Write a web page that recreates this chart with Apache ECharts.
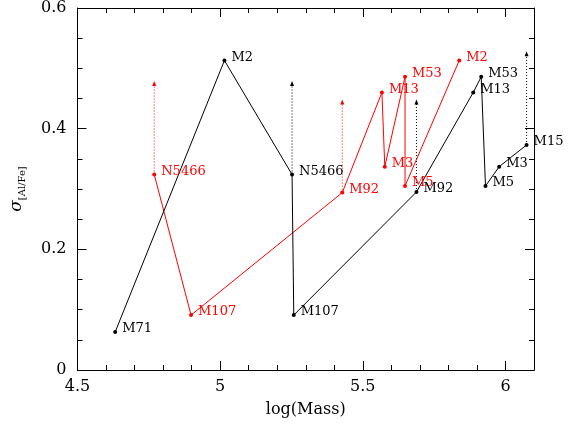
<!DOCTYPE html>
<html lang="en">
<head>
  <meta charset="utf-8">
  <title>sigma Al/Fe vs log(Mass)</title>
  <script src="https://cdn.jsdelivr.net/npm/echarts@6/dist/echarts.min.js"></script>
  <style>
    html, body, #chart { width: 100%; height: 100%; margin: 0; padding: 0; overflow: hidden; background: #fff; }
  </style>
</head>
<body>
  <div id="chart"></div>
  <script>
    // black clusters (one mass estimate)
    var blackNames = ['M71', 'M2', 'N5466', 'M107', 'M92', 'M13', 'M53', 'M5', 'M3', 'M15'];
    var blackMass = [4.632, 5.015, 5.252, 5.258, 5.688, 5.887, 5.915, 5.930, 5.978, 6.074];
    var blackSigma = [0.063, 0.513, 0.324, 0.091, 0.295, 0.460, 0.486, 0.305, 0.337, 0.373];
    // red clusters (other mass estimate)
    var redNames = ['N5466', 'M107', 'M92', 'M13', 'M3', 'M53', 'M5', 'M2'];
    var redMass = [4.769, 4.898, 5.428, 5.567, 5.577, 5.648, 5.648, 5.838];
    var redSigma = [0.324, 0.091, 0.294, 0.460, 0.337, 0.486, 0.305, 0.513];
    // upper limits (dotted arrows)
    var blackLimMass = [5.252, 5.688, 6.074];
    var blackLimLow = [0.324, 0.295, 0.373];
    var blackLimHigh = [0.475, 0.444, 0.524];
    var redLimMass = [4.769, 5.428];
    var redLimLow = [0.324, 0.294];
    var redLimHigh = [0.475, 0.444];

    var xTicks = ['4.5', '5', '5.5', '6'];
    var yTicks = ['0', '0.2', '0.4', '0.6'];

    var FONT = 'DejaVu Serif';

    function pts(names, xs, ys) {
      return names.map(function (n, i) { return { name: n, value: [xs[i], ys[i]] }; });
    }

    function mainSeries(names, xs, ys, color) {
      return {
        type: 'line',
        data: pts(names, xs, ys),
        symbol: 'circle',
        symbolSize: 4,
        itemStyle: { color: color },
        lineStyle: { color: color, width: 1 },
        label: {
          show: true, position: 'right', distance: 5, offset: [0, -3],
          formatter: '{b}', color: color, fontFamily: FONT, fontSize: 13
        },
        z: 3
      };
    }

    function limitSeries(xs, lows, highs, color) {
      return xs.map(function (x, i) {
        return {
          type: 'line',
          data: [
            { value: [x, lows[i]], symbol: 'none' },
            { value: [x, highs[i]], symbol: 'triangle', symbolSize: [4, 5] }
          ],
          itemStyle: { color: color },
          lineStyle: { color: color, width: 1, type: [1, 2] },
          z: 2
        };
      });
    }

    function xAxisDef(pos, interval, len, labels) {
      return {
        type: 'value', position: pos, min: 4.5, max: 6.1, interval: interval,
        axisLine: { show: true, onZero: false, lineStyle: { color: '#000', width: 1 } },
        axisTick: { show: true, inside: true, length: len, lineStyle: { color: '#000' } },
        axisLabel: labels ? {
          show: true, color: '#000', fontFamily: FONT, fontSize: 16, margin: 9,
          formatter: function (v) {
            var s = String(Math.round(v * 10) / 10);
            return xTicks.indexOf(s) >= 0 ? s : '';
          }
        } : { show: false },
        splitLine: { show: false },
        name: labels ? 'log(Mass)' : '',
        nameLocation: 'middle', nameGap: 32,
        nameTextStyle: { color: '#000', fontFamily: FONT, fontSize: 16 }
      };
    }

    function yAxisDef(pos, labels) {
      return {
        type: 'value', position: pos, min: 0, max: 0.6, interval: 0.2,
        axisLine: { show: true, onZero: false, lineStyle: { color: '#000', width: 1 } },
        axisTick: { show: true, inside: true, length: 9, lineStyle: { color: '#000' } },
        minorTick: { show: true, splitNumber: 4, length: 5, lineStyle: { color: '#000' } },
        axisLabel: labels ? {
          show: true, color: '#000', fontFamily: FONT, fontSize: 16, margin: 11,
          formatter: function (v) {
            var s = String(Math.round(v * 10) / 10);
            return yTicks.indexOf(s) >= 0 ? s : '';
          }
        } : { show: false },
        splitLine: { show: false },
        minorSplitLine: { show: false },
        name: labels ? '{s|σ}{sub|[Al/Fe]}' : '',
        nameLocation: 'middle', nameRotate: 90, nameGap: 50,
        nameTextStyle: {
          color: '#000',
          rich: {
            s: { fontFamily: FONT, fontStyle: 'italic', fontSize: 17, lineHeight: 22, color: '#000' },
            sub: { fontFamily: FONT, fontSize: 10, verticalAlign: 'bottom', lineHeight: 22, color: '#000' }
          }
        }
      };
    }

    var chart = echarts.init(document.getElementById('chart'));
    chart.setOption({
      animation: false,
      backgroundColor: '#fff',
      grid: { left: 67, right: 34, top: 7, bottom: 55 },
      xAxis: [
        xAxisDef('bottom', 0.5, 9, true),
        xAxisDef('bottom', 0.1, 5, false),
        xAxisDef('top', 0.5, 9, false),
        xAxisDef('top', 0.1, 5, false)
      ],
      yAxis: [
        yAxisDef('left', true),
        yAxisDef('right', false)
      ],
      series: [].concat(
        limitSeries(redLimMass, redLimLow, redLimHigh, '#ff0000'),
        limitSeries(blackLimMass, blackLimLow, blackLimHigh, '#000000'),
        [mainSeries(redNames, redMass, redSigma, '#ff0000'),
         mainSeries(blackNames, blackMass, blackSigma, '#000000')]
      )
    });
  </script>
</body>
</html>
